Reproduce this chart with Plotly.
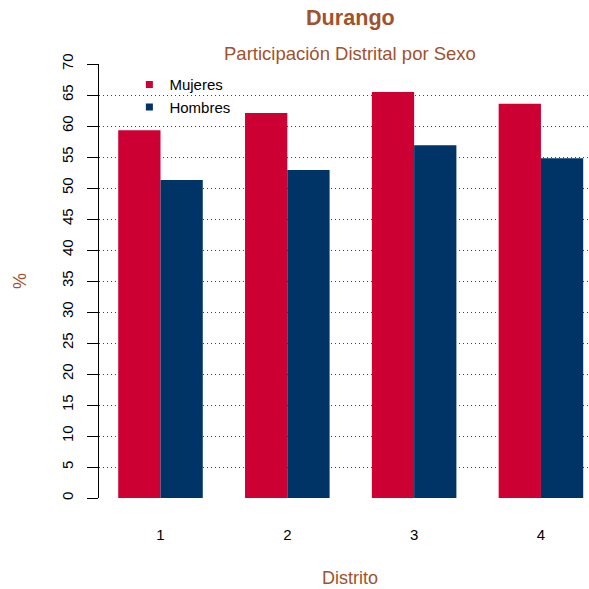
import plotly.graph_objects as go

distritos = ["1", "2", "3", "4"]
mujeres = [59.3, 62.1, 65.5, 63.6]
hombres = [51.3, 52.9, 56.9, 54.8]
y_ticks = list(range(0, 75, 5))

title = "Durango"
subtitle = "Participación Distrital por Sexo"
x_title = "Distrito"
y_title = "%"

C_M = "#CC0033"
C_H = "#003366"
C_T = "#A0522D"
FONT = "Liberation Sans, Arial, Helvetica, sans-serif"

fig = go.Figure()
fig.add_trace(go.Bar(x=distritos, y=mujeres, name="Mujeres", marker=dict(color=C_M, line=dict(width=0)), showlegend=False))
fig.add_trace(go.Bar(x=distritos, y=hombres, name="Hombres", marker=dict(color=C_H, line=dict(width=0)), showlegend=False))
# legend entries (small square keys)
fig.add_trace(go.Scatter(x=[None], y=[None], mode="markers", name="Mujeres",
                         marker=dict(symbol="square", size=7, color=C_M)))
fig.add_trace(go.Scatter(x=[None], y=[None], mode="markers", name="Hombres",
                         marker=dict(symbol="square", size=7, color=C_H)))

fig.update_layout(
    width=589, height=589,
    margin=dict(l=99, r=0, t=64, b=91),
    paper_bgcolor="white", plot_bgcolor="white",
    barmode="group", bargap=1/3, bargroupgap=0,
    font=dict(family=FONT, color="black", size=15),
    legend=dict(x=0.062, y=0.99, xanchor="left", yanchor="top", xref="paper", yref="paper",
                bgcolor="rgba(0,0,0,0)", font=dict(size=15, color="black"),
                itemwidth=30, tracegroupgap=0),
    xaxis=dict(type="category", range=[-0.485, 3.379], showline=False, showgrid=False,
               zeroline=False, ticks="outside", ticklen=23, tickcolor="rgba(0,0,0,0)",
               tickfont=dict(size=15, color="black")),
    yaxis=dict(range=[0, 70], tickvals=y_ticks, ticktext=[str(v) for v in y_ticks],
               tickangle=-90, ticks="outside", ticklen=11, tickwidth=1, tickcolor="black",
               ticklabelstandoff=8,
               showline=True, linecolor="black", linewidth=1,
               showgrid=True, gridcolor="#444444", gridwidth=1, griddash="1px,3px",
               zeroline=False, tickfont=dict(size=15, color="black")),
    annotations=[
        dict(text="<b>" + title + "</b>", xref="paper", yref="paper", x=0.513, y=1.106,
             xanchor="center", yanchor="middle", showarrow=False,
             font=dict(size=21.6, color=C_T, family=FONT)),
        dict(text=subtitle, xref="paper", yref="paper", x=0.513, y=1.0253,
             xanchor="center", yanchor="middle", showarrow=False,
             font=dict(size=18.5, color=C_T, family=FONT)),
        dict(text=x_title, xref="paper", yref="paper", x=0.513, y=-0.184,
             xanchor="center", yanchor="middle", showarrow=False,
             font=dict(size=18, color=C_T, family=FONT)),
        dict(text=y_title, xref="paper", yref="paper", x=-0.161, y=0.5, textangle=-90,
             xanchor="center", yanchor="middle", showarrow=False,
             font=dict(size=18, color=C_T, family=FONT)),
    ],
)

fig.write_html("out.html", config={"displayModeBar": False},
               post_script="document.body.style.margin='0';document.body.style.padding='0';")
